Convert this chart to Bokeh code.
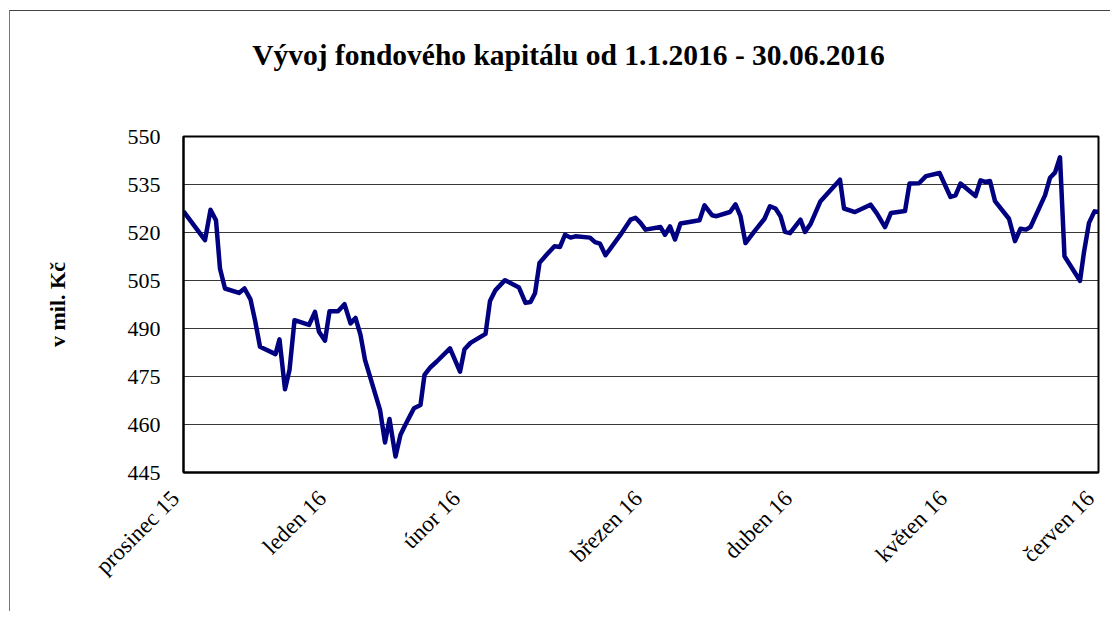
import math
from bokeh.plotting import figure
from bokeh.models import Div, FixedTicker, Range1d
from bokeh.layouts import column
from bokeh.embed import file_html
from bokeh.resources import INLINE

title_text = "Vývoj fondového kapitálu od 1.1.2016 - 30.06.2016"
y_label = "v mil. Kč"

# x: days from the left edge of the axis (prosinec 15), y: fund capital (mil. Kč)
days = [0, 4.3, 5.4, 6.5, 7.3, 8.3, 11.1, 12.2, 13.4, 14.3, 15.3, 18.4, 19.2, 20.3, 21.2,
        22.2, 25.1, 26.3, 27.1, 28.3, 29.2, 30.9, 32.2, 33.4, 34.4, 35.4, 36.3, 39.3, 40.3,
        41.2, 42.4, 43.4, 44.2, 45.4, 46.1, 47.4, 48.2, 49.4, 50.6, 53.3, 55.3, 56.2, 57.4,
        60.4, 61.3, 62.4, 64.3, 67.1, 68.4, 69.4, 70.3, 71.2, 72.7, 74.2, 75.3, 76.3, 77.4,
        78.4, 81.3, 82.3, 83.3, 84.4, 87.3, 89.4, 90.4, 91.4, 92.4, 95.4, 96.3, 97.3, 98.3,
        99.4, 103.2, 104.2, 105.7, 106.6, 109.3, 110.4, 111.4, 112.4, 114.1, 116.2, 117.3,
        118.4, 119.4, 120.3, 121.3, 123.4, 124.3, 125.4, 127.4, 131.3, 132.1, 134.3, 137.4,
        138.7, 140.3, 141.5, 144.3, 145.2, 147.1, 148.5, 151.2, 153.4, 154.4, 155.4, 158.4,
        159.4, 160.3, 161.3, 162.3, 165.1, 166.3, 167.4, 168.5, 169.4, 172.3, 173.3, 174.3,
        175.3, 176.2, 179.3, 180.1, 181.1, 182.2, 183.0]
capital = [526.6, 517.6, 527.1, 523.8, 508.7, 502.5, 501.1, 502.5, 499.1, 492.6, 484.3,
           482.0, 486.6, 471.0, 477.0, 492.6, 491.1, 495.2, 489.0, 486.2, 495.4, 495.4,
           497.6, 491.6, 493.3, 488.0, 480.2, 464.6, 454.4, 461.7, 450.0, 456.8, 459.4,
           463.0, 465.1, 466.1, 475.5, 477.9, 479.6, 483.8, 476.5, 483.5, 485.5, 488.3,
           498.6, 502.0, 505.1, 502.8, 498.0, 498.3, 501.0, 510.5, 513.2, 515.7, 515.5,
           519.3, 518.4, 518.8, 518.4, 517.0, 516.5, 512.9, 519.1, 524.0, 524.6, 523.0,
           520.9, 521.7, 519.3, 521.9, 517.8, 522.8, 523.8, 528.5, 525.4, 525.1, 526.4,
           528.8, 525.1, 516.7, 520.2, 524.3, 528.2, 527.5, 525.1, 520.2, 519.8, 524.0,
           520.2, 522.6, 529.8, 536.5, 527.5, 526.4, 528.7, 525.9, 521.7, 526.1, 526.7,
           535.3, 535.4, 537.6, 538.6, 531.1, 531.6, 535.3, 531.4, 536.3, 535.8, 536.1,
           529.8, 524.3, 517.3, 521.2, 520.9, 521.7, 531.6, 537.1, 538.7, 543.5, 512.6,
           504.9, 513.9, 523.0, 526.6, 526.4]

month_ticks = [0, 29.4, 56.2, 92.6, 122.6, 153.6, 183]
month_labels = ["prosinec 15", "leden 16", "únor 16", "březen 16", "duben 16",
                "květen 16", "červen 16"]
y_ticks = [445, 460, 475, 490, 505, 520, 535, 550]

FONT = "Liberation Serif"
PAD = "\u00a0\u00a0"  # trailing padding so the rotated labels end just left of their tick

title_div = Div(
    text=(f'<div style="width:1100px; box-sizing:border-box; text-align:center; '
          f'padding-left:17px; padding-top:30px; '
          f'font-family:\'{FONT}\'; font-weight:bold; font-size:29.5px; line-height:29px; '
          f'color:#000; white-space:nowrap;">{title_text}</div>'),
    width=1100, height=100, margin=0)

p = figure(width=1100, height=500, output_backend="svg", toolbar_location=None,
           x_range=Range1d(0, 183), y_range=Range1d(445, 550),
           min_border_left=173, min_border_right=12, min_border_top=25,
           min_border_bottom=139, margin=0)

p.line(days, capital, line_color="#000080", line_width=4.5, line_join="round")

p.xgrid.visible = False
p.ygrid.grid_line_color = "#000000"
p.ygrid.grid_line_alpha = 0.78
p.ygrid.grid_line_width = 1
p.ygrid.ticker = FixedTicker(ticks=y_ticks)

p.outline_line_color = "#000000"
p.outline_line_width = 2
p.outline_line_alpha = 1

p.xaxis.ticker = FixedTicker(ticks=month_ticks)
p.xaxis.major_label_overrides = {t: l + PAD for t, l in zip(month_ticks, month_labels)}
p.xaxis.major_label_orientation = math.pi / 4
p.xaxis.major_label_standoff = 14

p.yaxis.ticker = FixedTicker(ticks=y_ticks)
p.yaxis.major_label_standoff = 23
p.yaxis.axis_label = y_label
p.yaxis.axis_label_standoff = 55
p.yaxis.axis_label_text_font = FONT
p.yaxis.axis_label_text_font_style = "bold"
p.yaxis.axis_label_text_font_size = "22px"
p.yaxis.axis_label_text_color = "#000000"

for ax in (p.xaxis[0], p.yaxis[0]):
    ax.axis_line_color = "#000000"
    ax.axis_line_width = 2
    ax.major_tick_out = 0
    ax.major_tick_in = 0
    ax.minor_tick_out = 0
    ax.minor_tick_in = 0
    ax.major_label_text_font = FONT
    ax.major_label_text_color = "#000000"

p.xaxis.major_label_text_font_size = "23px"
p.yaxis.major_label_text_font_size = "22px"

page = column(title_div, p, margin=0, spacing=0,
              styles={"border-top": "1px solid #444", "border-left": "1px solid #777",
                      "margin-top": "10px", "margin-left": "9px"})

open("out.html", "w").write(file_html(page, INLINE))
